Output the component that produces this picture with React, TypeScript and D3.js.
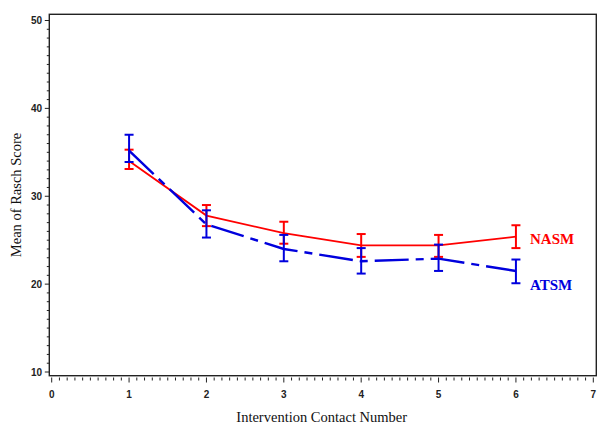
import React from "react";
import * as d3 from "d3";

const contacts = [1, 2, 3, 4, 5, 6];
const nasmMean = [34.0, 27.8, 25.8, 24.4, 24.4, 25.4];
const nasmLow = [33.1, 26.6, 24.6, 23.1, 23.1, 24.1];
const nasmHigh = [35.3, 29.0, 27.1, 25.7, 25.6, 26.7];
const atsmMean = [35.2, 26.8, 24.0, 22.6, 22.9, 21.5];
const atsmLow = [33.9, 25.3, 22.6, 21.2, 21.5, 20.1];
const atsmHigh = [37.0, 28.4, 25.6, 24.1, 24.5, 22.8];
const xTicks = [0, 1, 2, 3, 4, 5, 6, 7];
const yTicks = [10, 20, 30, 40, 50];

const W = 605;
const H = 430;

export default function App() {
  const x = d3.scaleLinear().domain([0, 7]).range([51.7, 593.3]);
  const y = d3.scaleLinear().domain([10, 50]).range([372, 20.5]);
  const frame = { l: 49.3, t: 14.3, r: 596.3, b: 375.7 };
  const line = d3
    .line<number>()
    .x((_, i) => x(contacts[i]))
    .y((d) => y(d));

  const xMinor = d3.range(0, 70 + 1).map((i) => i / 10);
  const yMinor = d3.range(10, 51);
  const tickFont = "'Liberation Sans', Arial, sans-serif";
  const serif = "'Liberation Serif', 'Times New Roman', serif";

  const series = [
    { name: "NASM", color: "#ff0000", mean: nasmMean, low: nasmLow, high: nasmHigh, width: 1.8, dash: undefined as string | undefined },
    { name: "ATSM", color: "#0000dd", mean: atsmMean, low: atsmLow, high: atsmHigh, width: 2.4, dash: "34 7 8 7" },
  ];

  return (
    <svg width={W} height={H} style={{ position: "absolute", left: 0, top: 0, background: "#fff" }}>
      <rect x={0} y={0} width={W} height={H} fill="#fff" />
      <rect
        x={frame.l}
        y={frame.t}
        width={frame.r - frame.l}
        height={frame.b - frame.t}
        fill="none"
        stroke="#222"
        strokeWidth={1.4}
      />
      {/* y axis ticks */}
      {yMinor.map((v) => {
        const major = v % 10 === 0;
        return (
          <line
            key={"ym" + v}
            x1={frame.l - (major ? 4.5 : 2.5)}
            x2={frame.l}
            y1={y(v)}
            y2={y(v)}
            stroke="#222"
            strokeWidth={1}
          />
        );
      })}
      {yTicks.map((v) => (
        <text
          key={"yl" + v}
          x={42}
          y={y(v) + 3.5}
          textAnchor="end"
          fontFamily={tickFont}
          fontWeight="bold"
          fontSize={10}
          fill="#222"
        >
          {v}
        </text>
      ))}
      {/* x axis ticks */}
      {xMinor.map((v, i) => {
        const major = i % 10 === 0;
        return (
          <line
            key={"xm" + i}
            x1={x(v)}
            x2={x(v)}
            y1={377.5}
            y2={major ? 382.5 : 380.5}
            stroke="#222"
            strokeWidth={1}
          />
        );
      })}
      {xTicks.map((v) => (
        <text
          key={"xl" + v}
          x={x(v)}
          y={397.5}
          textAnchor="middle"
          fontFamily={tickFont}
          fontWeight="bold"
          fontSize={10}
          fill="#222"
        >
          {v}
        </text>
      ))}
      {/* axis titles */}
      <text
        transform={`translate(21,195) rotate(-90)`}
        textAnchor="middle"
        fontFamily={serif}
        fontSize={14.5}
        fill="#111"
      >
        Mean of Rasch Score
      </text>
      <text x={321.7} y={421.5} textAnchor="middle" fontFamily={serif} fontSize={14.5} fill="#111">
        Intervention Contact Number
      </text>
      {/* series */}
      {series.map((s) => (
        <g key={s.name}>
          <path
            d={line(s.mean) || ""}
            fill="none"
            stroke={s.color}
            strokeWidth={s.width}
            strokeDasharray={s.dash}
          />
          {contacts.map((c, i) => (
            <g key={c} stroke={s.color} strokeWidth={2}>
              <line x1={x(c)} x2={x(c)} y1={y(s.low[i])} y2={y(s.high[i])} />
              <line x1={x(c) - 4.5} x2={x(c) + 4.5} y1={y(s.low[i])} y2={y(s.low[i])} />
              <line x1={x(c) - 4.5} x2={x(c) + 4.5} y1={y(s.high[i])} y2={y(s.high[i])} />
            </g>
          ))}
        </g>
      ))}
      <text x={530} y={244.3} fontFamily={serif} fontWeight="bold" fontSize={15} fill="#ff0000">
        NASM
      </text>
      <text x={530} y={290} fontFamily={serif} fontWeight="bold" fontSize={15} fill="#0000dd">
        ATSM
      </text>
    </svg>
  );
}
